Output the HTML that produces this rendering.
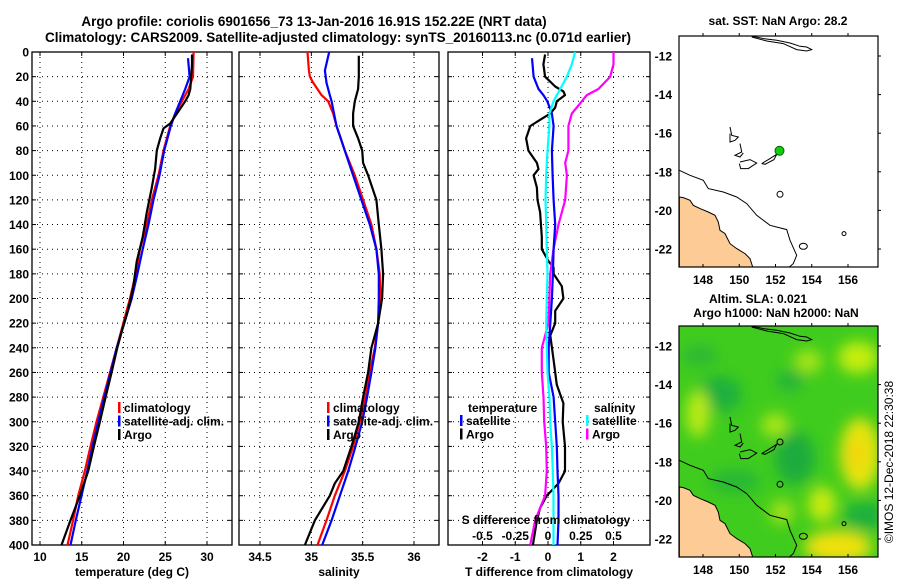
<!DOCTYPE html>
<html><head><meta charset="utf-8"><style>
html,body{margin:0;padding:0;background:#fff;}
svg{display:block;font-family:"Liberation Sans",sans-serif;}
.t{font-weight:bold;font-size:12px;fill:#000;}
.ttl{font-weight:bold;font-size:13.5px;fill:#000;}
.grid{stroke:#000;stroke-width:1;stroke-dasharray:1,4;}
</style></head><body>
<svg id="fig" width="900" height="580" viewBox="0 0 900 580">
<text class="ttl" x="314" y="26" text-anchor="middle">Argo profile: coriolis 6901656_73 13-Jan-2016 16.91S 152.22E (NRT data)</text>
<text class="ttl" x="338" y="42" text-anchor="middle">Climatology: CARS2009. Satellite-adjusted climatology: synTS_20160113.nc (0.071d earlier)</text>
<g id="plots"></g>
<g id="maps"></g>
</svg>
<script>
// ---- temperature panel data ----
const tClimDepth=[0,20,30,50,60,80,100,120,140,160,180,200,220,240,260,280,300,320,340,360,380,400];
const tClimVal=[28.40,28.32,27.80,26.19,25.59,24.79,24.19,23.39,22.79,21.98,21.46,20.78,19.98,19.18,18.38,17.58,16.77,16.05,15.37,14.57,13.97,13.29];
const tSatDepth=[5,20,30,50,60,80,100,120,140,160,180,200,220,240,260,280,300,320,340,360,380,400];
const tSatVal=[27.72,27.92,27.39,26.19,25.67,24.87,24.31,23.59,22.99,22.30,21.66,20.98,20.10,19.18,18.46,17.70,16.97,16.29,15.65,14.97,14.29,13.65];
const tArgoDepth=[2,10,30,35,40,50,58,62,70,80,95,110,130,150,170,190,205,215,225,240,260,280,300,320,340,360,380,400];
const tArgoVal=[28.20,28.20,28.00,27.80,27.39,26.39,25.59,24.79,24.39,23.99,23.79,23.39,22.79,22.30,21.58,21.18,20.70,20.30,19.86,19.26,18.58,17.86,17.17,16.45,15.77,14.77,13.65,12.57];
// ---- salinity panel data ----
const sClimDepth=[0,15,20,25,35,40,50,60,70,80,100,120,140,160,180,200,220,240,260,280,300,320,340,360,380,400];
const sClimVal=[34.963,34.976,34.986,35.018,35.099,35.164,35.213,35.245,35.287,35.326,35.423,35.504,35.585,35.634,35.666,35.673,35.650,35.618,35.569,35.527,35.472,35.407,35.326,35.229,35.148,35.060];
const sSatDepth=[0,15,25,35,40,60,80,100,120,140,160,180,200,220,240,260,280,300,320,340,360,380,400];
const sSatVal=[35.174,35.132,35.148,35.180,35.197,35.245,35.326,35.407,35.488,35.569,35.634,35.657,35.657,35.650,35.624,35.585,35.543,35.495,35.430,35.359,35.278,35.197,35.106];
const sArgoDepth=[3,20,30,40,50,60,70,80,90,100,120,140,160,180,200,220,230,240,260,280,300,320,340,350,360,380,400];
const sArgoVal=[35.462,35.462,35.456,35.423,35.407,35.407,35.456,35.495,35.504,35.553,35.634,35.657,35.682,35.699,35.689,35.650,35.618,35.585,35.553,35.504,35.462,35.391,35.310,35.229,35.180,35.035,34.937];
// ---- difference panel data ----
const dTSatDepth=[5,20,30,35,40,50,60,80,100,120,140,160,180,200,220,240,260,280,300,320,340,360,380,400];
const dTSatVal=[-0.49,-0.44,-0.29,-0.14,-0.02,0.12,0.17,0.12,0.14,0.17,0.22,0.17,0.15,0.12,0.07,0.02,0.02,0.17,0.22,0.27,0.29,0.32,0.32,0.29];
const dTArgoDepth=[2,10,20,28,32,35,40,45,50,55,60,70,80,90,95,100,110,120,130,150,160,170,175,180,190,200,210,220,230,250,270,285,300,320,340,350,360,370,380,400];
const dTArgoVal=[-0.09,-0.14,-0.09,0.22,0.47,0.52,0.27,0.22,0.07,-0.24,-0.54,-0.67,-0.60,-0.34,-0.29,-0.44,-0.34,-0.32,-0.24,-0.19,-0.19,0.02,0.17,0.17,0.42,0.47,0.22,0.22,0.07,0.17,0.27,0.47,0.45,0.52,0.52,0.32,-0.04,-0.24,-0.34,-0.46];
const dSSatDepth=[0,10,20,30,40,50,60,80,100,120,140,160,180,200,220,240,260,280,300,320,340,360,380,400];
const dSSatVal=[0.207,0.182,0.144,0.093,0.042,0.011,0.011,-0.004,-0.014,-0.019,-0.014,-0.009,-0.004,-0.009,-0.014,-0.009,-0.004,0.011,0.017,0.029,0.037,0.042,0.042,0.042];
const dSArgoDepth=[0,10,20,30,35,40,45,50,60,80,90,100,120,140,160,180,200,220,240,260,280,300,320,340,360,370,380,400];
const dSArgoVal=[0.5,0.5,0.475,0.385,0.296,0.258,0.22,0.182,0.156,0.156,0.131,0.144,0.131,0.08,0.042,0.017,0.011,0.004,-0.047,-0.047,-0.034,-0.029,-0.014,-0.009,-0.022,-0.06,-0.098,-0.136];
// ---- tick labels ----
const depthTicks=[0,20,40,60,80,100,120,140,160,180,200,220,240,260,280,300,320,340,360,380,400];
const tTicks=[10,15,20,25,30];
const sTicks=[34.5,35,35.5,36];
const dTTicks=[-2,-1,0,1,2];
const dSTicks=[-0.5,-0.25,0,0.25,0.5];
const lonTicks=[148,150,152,154,156];
const latTicks=[-12,-14,-16,-18,-20,-22];

const NS="http://www.w3.org/2000/svg";
function mk(tag,attrs,parent,txt){const e=document.createElementNS(NS,tag);for(const k in attrs)e.setAttribute(k,attrs[k]);if(txt!==undefined)e.textContent=txt;parent.appendChild(e);return e;}
const plots=document.getElementById('plots');
const Y0=52,Y1=545;
function yD(d){return Y0+(d/400)*(Y1-Y0);}

function panel(name,x0,x1,xs,xticks,xlab,fmt,showY){
  const g=mk('g',{},plots);
  
  
  xticks.forEach(v=>{const X=xs(v);
    const l=mk('line',{x1:X,x2:X,y1:Y0,y2:Y1,class:'grid'},g);
    
    mk('line',{x1:X,x2:X,y1:Y1,y2:Y1-4,stroke:'#000'},g);
    mk('line',{x1:X,x2:X,y1:Y0,y2:Y0+4,stroke:'#000'},g);
    if(fmt){const t=mk('text',{x:X,y:561,class:'t','text-anchor':'middle'},g,fmt(v));
    }
  });
  depthTicks.forEach(d=>{const Y=yD(d);
    if(d>0&&d<400){const l=mk('line',{x1:x0,x2:x1,y1:Y,y2:Y,class:'grid'},g);
    }
    mk('line',{x1:x0,x2:x0+4,y1:Y,y2:Y,stroke:'#000'},g);
    mk('line',{x1:x1,x2:x1-4,y1:Y,y2:Y,stroke:'#000'},g);
    if(showY){const t=mk('text',{x:29,y:Y+4.5,class:'t','text-anchor':'end'},g,String(d));
    }
  });
  const r=mk('rect',{x:x0,y:Y0,width:x1-x0,height:Y1-Y0,fill:'none',stroke:'#000','stroke-width':1.3},g);
  
  const t=mk('text',{x:(x0+x1)/2,y:576,class:'t','text-anchor':'middle'},g,xlab);
  
  return g;
}
function series(g,name,depths,vals,xs,color,w){
  const pts=depths.map((d,i)=>xs(vals[i]).toFixed(1)+','+yD(d).toFixed(1)).join(' ');
  const p=mk('polyline',{points:pts,fill:'none',stroke:color,'stroke-width':w||2.2,'stroke-linejoin':'round'},g);
  
  
}
function legend(g,x,y,items){
  items.forEach((it,i)=>{
    mk('rect',{x:x,y:y+i*13.5-10,width:2.5,height:11,fill:it[1]},g);
    const t=mk('text',{x:x+6,y:y+i*13.5,class:'t','font-size':'12'},g,it[0]);
    
  });
}
// Temperature panel
const xT=v=>40+(v-10)*(207-40)/20;
const g1=panel('temperature-panel',32,232,xT,tTicks,'temperature (deg C)',v=>String(v),true);
series(g1,'temperature-climatology-line',tClimDepth,tClimVal,xT,'#f00');
series(g1,'temperature-satellite-line',tSatDepth,tSatVal,xT,'#00f');
series(g1,'temperature-argo-line',tArgoDepth,tArgoVal,xT,'#000');
legend(g1,118,412,[['climatology','#f00'],['satellite-adj. clim.','#00f'],['Argo','#000']]);
// Salinity panel
const xS=v=>260+(v-34.5)*(414-260)/1.5;
const g2=panel('salinity-panel',239,439,xS,sTicks,'salinity',v=>String(v),false);
series(g2,'salinity-climatology-line',sClimDepth,sClimVal,xS,'#f00');
series(g2,'salinity-satellite-line',sSatDepth,sSatVal,xS,'#00f');
series(g2,'salinity-argo-line',sArgoDepth,sArgoVal,xS,'#000');
legend(g2,327,412,[['climatology','#f00'],['satellite-adj. clim.','#00f'],['Argo','#000']]);
// Difference panel
const xDT=v=>548+v*(613-482)/4;
const xDS=v=>xDT(v*4);
const g3=panel('difference-panel',448,650,xDT,dTTicks,'T difference from climatology',v=>String(v),false);
series(g3,'t-diff-argo-line',dTArgoDepth,dTArgoVal,xDT,'#000');
series(g3,'s-diff-argo-line',dSArgoDepth,dSArgoVal,xDS,'#f0f');
series(g3,'t-diff-satellite-line',dTSatDepth,dTSatVal,xDT,'#00f');
series(g3,'s-diff-satellite-line',dSSatDepth,dSSatVal,xDS,'#0ff');
let tt=mk('text',{x:468,y:412,class:'t'},g3,'temperature');

tt=mk('text',{x:594,y:412,class:'t'},g3,'salinity');

legend(g3,460,425,[['satellite','#00f'],['Argo','#000']]);
legend(g3,586,425,[['satellite','#0ff'],['Argo','#f0f']]);
tt=mk('text',{x:546,y:524,class:'t','text-anchor':'middle'},g3,'S difference from climatology');

dSTicks.forEach(v=>{const t=mk('text',{x:xDS(v),y:540,class:'t','text-anchor':'middle'},g3,String(v));
  });

// ---- maps ----
const maps=document.getElementById('maps');
const MX0=679,MX1=878,MW=199,MH=231;
const lonX=l=>703+(l-148)*(848-703)/8;
const latY=(l,top)=>top+20+(-12-l)*(193/10);
const landPts=[[88,590],[100,592],[120,600],[130,615],[150,625],[175,635],[195,645],[205,665],[210,690],[225,700],[240,730],[260,745],[285,760],[300,775],[308,800],[88,800]];
const shelfPts=[[88,510],[120,525],[160,540],[175,565],[220,575],[260,590],[290,610],[320,645],[360,675],[410,688],[420,720],[440,765],[430,790],[418,800]];
function rel(p,top){return [(p[0]/3+650),(p[1]/3-35.7+top)];}
function ptsStr(arr,top){return arr.map(p=>{const r=rel(p,top);return r[0].toFixed(1)+','+r[1].toFixed(1);}).join(' ');}
function drawMap(name,top,heat){
  const g=mk('g',{},maps);
  
  
  const cp='clip'+top;
  const defs=mk('defs',{},g);
  const c=mk('clipPath',{id:cp},defs);mk('rect',{x:MX0,y:top,width:MW,height:MH},c);
  const f=mk('filter',{id:'blur'+top,x:'-50%',y:'-50%',width:'200%',height:'200%'},defs);
  mk('feGaussianBlur',{stdDeviation:7},f);
  const inner=mk('g',{'clip-path':'url(#'+cp+')'},g);
  if(heat){
    mk('rect',{x:MX0,y:top,width:MW,height:MH,fill:'#40cc1e'},inner);
    const hb=mk('g',{filter:'url(#blur'+top+')'},inner);
    const blobs=[
      [720,-14.5,22,18,'#1db03c'],[795,-17.8,20,26,'#1aac3e'],[865,-20.8,22,14,'#1db03c'],[790,-13.8,14,10,'#20b23a'],[735,-19,26,12,'#28b836'],[700,-12.5,18,10,'#2ab836'],
      [698,-15.5,12,24,'#b8ea12'],[775,-16.1,14,12,'#a8e614'],[808,-12.8,14,12,'#a6e414'],[858,-12.6,20,16,'#c4ee10'],[860,-17.6,20,36,'#e6e40e'],[856,-17.6,9,14,'#f4d40c'],[838,-22.4,34,16,'#f0e00c'],[822,-20.2,14,18,'#c6ea10'],[782,-20.6,12,12,'#a4e216']];
    blobs.forEach(b=>{mk('ellipse',{cx:b[0],cy:latY(b[1],top),rx:b[2],ry:b[3],fill:b[4]},hb);});
  }
  mk('polygon',{points:ptsStr(landPts,top),fill:'#fccb96',stroke:'#000','stroke-width':1},inner);
  mk('polyline',{points:ptsStr(shelfPts,top),fill:'none',stroke:'#000','stroke-width':1},inner);
  mk('polyline',{points:ptsStr([[305,107],[340,115],[380,120],[420,128],[450,138],[470,140],[485,148],[470,152],[440,148],[400,130],[350,122],[305,110]],top),fill:'none',stroke:'#000'},inner);
  mk('polyline',{points:ptsStr([[240,380],[245,405],[265,410],[255,420],[240,425],[240,400]],top),fill:'none',stroke:'#000'},inner);
  mk('polyline',{points:ptsStr([[270,430],[275,455],[255,465],[270,470],[280,458]],top),fill:'none',stroke:'#000'},inner);
  mk('polyline',{points:ptsStr([[270,485],[300,478],[320,488],[295,505],[272,505],[268,490]],top),fill:'none',stroke:'#000'},inner);
  mk('polyline',{points:ptsStr([[335,490],[360,475],[380,462],[372,478],[345,492],[335,490]],top),fill:'none',stroke:'#000'},inner);
  mk('circle',{cx:650+390/3,cy:455/3-35.7+top,r:3,fill:'none',stroke:'#000'},inner);
  mk('circle',{cx:650+582/3,cy:700/3-35.7+top,r:2,fill:'none',stroke:'#000'},inner);
  mk('ellipse',{cx:650+460/3,cy:738/3-35.7+top,rx:4,ry:3,fill:'none',stroke:'#000'},inner);
  mk('circle',{cx:650+390/3,cy:582/3-35.7+top,r:3,fill:'none',stroke:'#000'},inner);
  const fr=mk('rect',{x:MX0,y:top,width:MW,height:MH,fill:'none',stroke:'#000','stroke-width':1.2},g);
  
  lonTicks.forEach(l=>{const X=lonX(l);
    mk('line',{x1:X,x2:X,y1:top+MH,y2:top+MH-3,stroke:'#000'},g);
    mk('line',{x1:X,x2:X,y1:top,y2:top-3,stroke:'#000'},g);
    const t=mk('text',{x:X,y:top+MH+17,class:'t','text-anchor':'middle'},g,String(l));
    });
  latTicks.forEach(l=>{const Y=latY(l,top);
    mk('line',{x1:MX1,x2:MX1+3,y1:Y,y2:Y,stroke:'#000'},g);
    const t=mk('text',{x:672,y:Y+4.5,class:'t','text-anchor':'end'},g,String(l));
    });
  return g;
}
const m1=drawMap('sst-map',36,false);
const dot=mk('circle',{cx:lonX(152.22),cy:latY(-16.91,36),r:4.5,fill:'#1c1',stroke:'#060','stroke-width':1},m1);


let mt=mk('text',{x:778,y:25,class:'t','text-anchor':'middle'},m1,'sat. SST: NaN Argo: 28.2');

const m2=drawMap('sla-map',326,true);
mt=mk('text',{x:758,y:303,class:'t','text-anchor':'middle'},m2,'Altim. SLA: 0.021');

mt=mk('text',{x:776,y:317,class:'t','text-anchor':'middle'},m2,'Argo h1000: NaN h2000: NaN');

mt=mk('text',{x:893,y:462,'font-size':'12','text-anchor':'middle',transform:'rotate(-90 893 462)',fill:'#000'},maps,'©IMOS 12-Dec-2018 22:30:38');

</script>
</body></html>
